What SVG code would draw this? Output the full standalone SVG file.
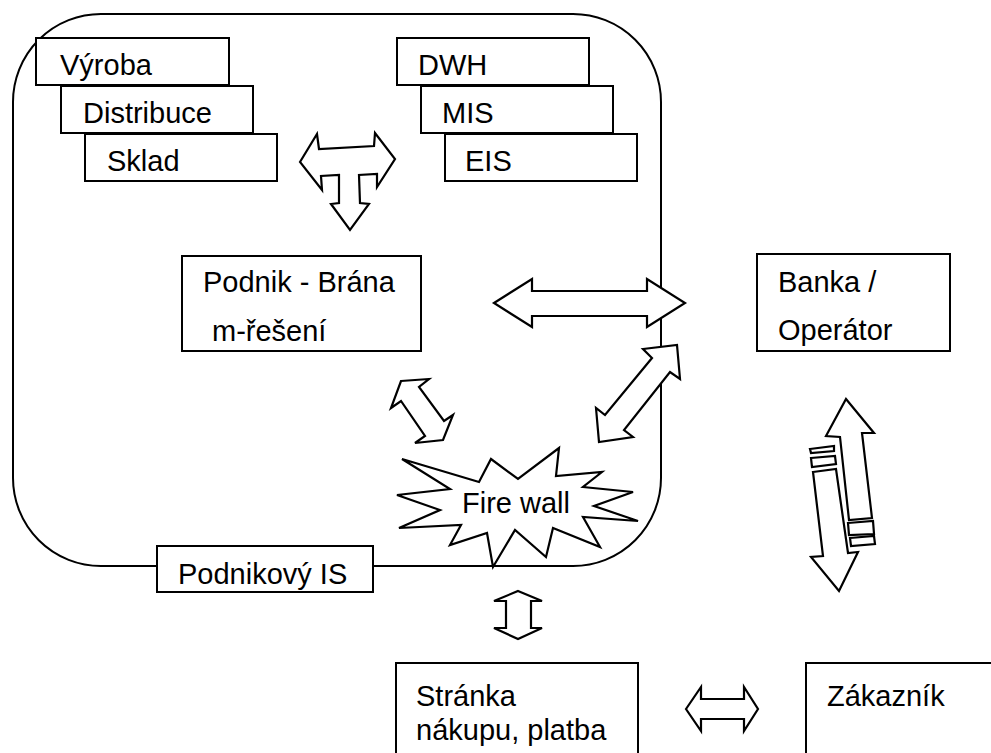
<svg xmlns="http://www.w3.org/2000/svg" width="991" height="753" viewBox="0 0 991 753">
  <style>
    .ln { fill: none; stroke: #000; stroke-width: 2; }
    .box { fill: #fff; stroke: #000; stroke-width: 2; }
    .arr { fill: #fff; stroke: #000; stroke-width: 2.2; stroke-linejoin: miter; }
    text { font-family: "Liberation Sans", Arial, sans-serif; font-size: 29px; fill: #000; }
  </style>
  <rect width="991" height="753" fill="#fff"/>

  <!-- company boundary -->
  <g id="boundary">
    <rect class="ln" x="13" y="14" width="648" height="552" rx="88" ry="88"/>
  </g>

  <!-- production systems stack -->
  <g id="vyroba">
    <rect class="box" x="36" y="38" width="193" height="47"/>
    <text x="60" y="75">Výroba</text>
  </g>
  <g id="distribuce">
    <rect class="box" x="61" y="86" width="192" height="47"/>
    <text x="83" y="123">Distribuce</text>
  </g>
  <g id="sklad">
    <rect class="box" x="85" y="134" width="192" height="47"/>
    <text x="107" y="171">Sklad</text>
  </g>

  <!-- management systems stack -->
  <g id="dwh">
    <rect class="box" x="397" y="38" width="192" height="47"/>
    <text x="418" y="75">DWH</text>
  </g>
  <g id="mis">
    <rect class="box" x="421" y="86" width="192" height="47"/>
    <text x="442" y="123">MIS</text>
  </g>
  <g id="eis">
    <rect class="box" x="445" y="134" width="192" height="47"/>
    <text x="465" y="171">EIS</text>
  </g>

  <g id="brana">
    <rect class="box" x="182" y="256" width="239" height="95"/>
    <text x="203" y="292">Podnik - Brána</text>
    <text x="212" y="341">m-řešení</text>
  </g>

  <g id="banka">
    <rect class="box" x="757" y="254" width="193" height="97"/>
    <text x="778" y="292">Banka /</text>
    <text x="778" y="340">Operátor</text>
  </g>

  <g id="podnikovy-is">
    <rect class="box" x="157" y="546" width="216" height="46"/>
    <text x="178" y="584">Podnikový IS</text>
  </g>

  <g id="firewall">
    <polygon class="arr" stroke-width="2" points="559,448 556,476 602,472 583,487 633,492 594,506 638,521 583,517 600,547 553,528 546,557 515,530 493,567 487,533 450,545 461,525 399,528 440,510 397,495 450,489 402,459 479,482 491,459 518,479"/>
    <text x="462" y="513">Fire wall</text>
  </g>

  <g id="stranka">
    <rect class="box" x="396" y="663" width="242" height="100"/>
    <text x="416" y="706">Stránka</text>
    <text x="416" y="740">nákupu, platba</text>
  </g>

  <g id="zakaznik">
    <rect class="box" x="806" y="663" width="195" height="100"/>
    <text x="827" y="706">Zákazník</text>
  </g>

  <!-- block arrows between the parts -->
  <g id="connectors">
    <!-- T-shaped three-way arrow -->
    <polygon class="arr" points="300,162 317,134 319,149 374,146 375,133 395,159 377,187 377,174 359,175 360,203 369,204 350,230 331,204 339,203 339,175 321,176 322,190"/>
    <!-- gateway to bank -->
    <polygon class="arr" points="494,303 532,279 532,291 647,291 647,279 685,303 647,327 647,316 532,316 532,327"/>
    <!-- gateway to firewall -->
    <polygon class="arr" points="401,381 429,379 419,387 444,421 453,415 443,440 415,443 425,436 401,401 391,408"/>
    <!-- firewall to bank -->
    <polygon class="arr" points="643,349 677,345 680,379 670,372 624,430 633,437 599,442 596,408 605,415 652,358"/>
    <!-- firewall to shop page -->
    <polygon class="arr" points="518,591 542,601 531,601 531,628 542,628 518,639 494,628 506,628 506,601 494,601"/>
    <!-- shop page to customer -->
    <polygon class="arr" points="686,709 701,687 701,699 744,699 744,687 758,709 744,731 744,719 701,719 701,731"/>
    <!-- bank to customer: split pair -->
    <polygon class="arr" points="846,399 874,433 862,433 872,518 849,520 840,437 826,436"/>
    <polygon class="arr" points="848,523 873,521 874,534 849,535"/>
    <polygon class="arr" points="850,538 874,536 875,544 851,546"/>
    <polygon class="arr" points="810,449 834,446 834,451 811,453"/>
    <polygon class="arr" points="811,458 835,456 836,464 812,467"/>
    <polygon class="arr" points="813,472 836,469 848,553 858,552 839,591 811,557 823,556"/>
  </g>
</svg>
